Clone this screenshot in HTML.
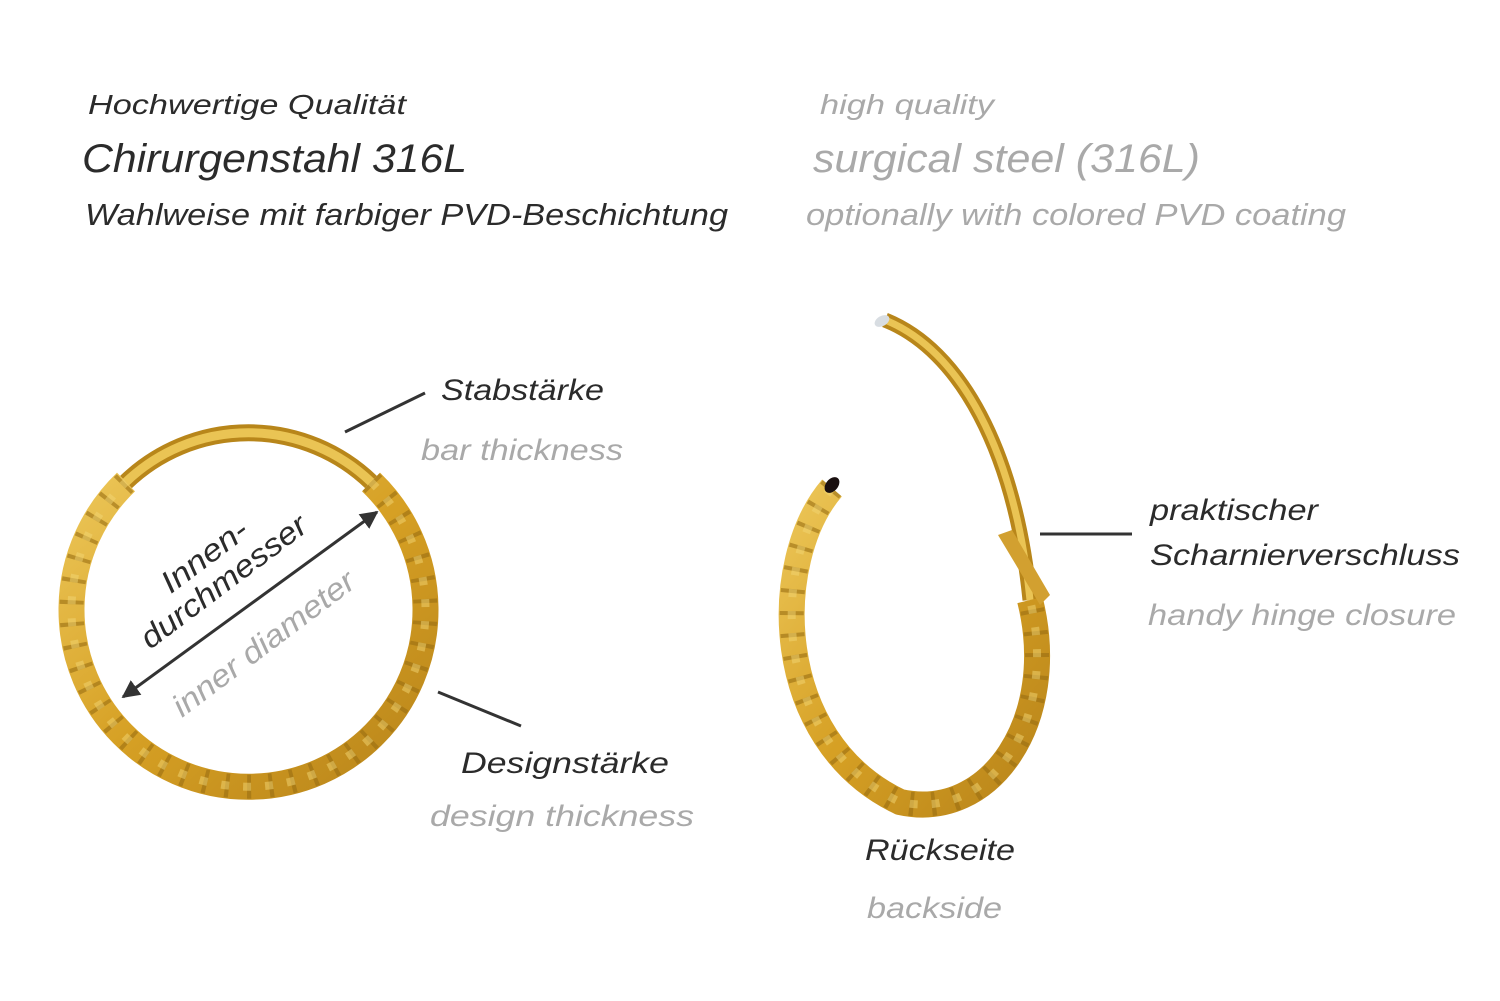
<!DOCTYPE html>
<html><head><meta charset="utf-8"><style>
html,body{margin:0;padding:0;background:#fff;}
svg{display:block;}
text{font-family:"Liberation Sans",sans-serif;font-style:italic;}
.d{fill:#2b2b2b}.g{fill:#a9a9a9}
</style></head><body>
<svg width="1500" height="1001" viewBox="0 0 1500 1001" xmlns="http://www.w3.org/2000/svg">
<defs>
<linearGradient id="gold" x1="0" y1="0" x2="1" y2="1">
<stop offset="0" stop-color="#ecc658"/><stop offset="0.5" stop-color="#d6a024"/><stop offset="1" stop-color="#b8841a"/>
</linearGradient>
<marker id="ah" viewBox="0 0 10 10" refX="9" refY="5" markerWidth="6" markerHeight="6" orient="auto-start-reverse"><path d="M0,0 L10,5 L0,10 z" fill="#333"/></marker>
</defs>

<text class="d" x="88" y="114" font-size="28" textLength="318" lengthAdjust="spacingAndGlyphs">Hochwertige Qualität</text>
<text class="d" x="82" y="172" font-size="40" textLength="385" lengthAdjust="spacingAndGlyphs">Chirurgenstahl 316L</text>
<text class="d" x="85" y="225" font-size="31" textLength="643" lengthAdjust="spacingAndGlyphs">Wahlweise mit farbiger PVD-Beschichtung</text>
<text class="g" x="820" y="114" font-size="28" textLength="174" lengthAdjust="spacingAndGlyphs">high quality</text>
<text class="g" x="813" y="172" font-size="40" textLength="387" lengthAdjust="spacingAndGlyphs">surgical steel (316L)</text>
<text class="g" x="806" y="225" font-size="31" textLength="540" lengthAdjust="spacingAndGlyphs">optionally with colored PVD coating</text>

<!-- left ring -->
<g fill="none">
<path d="M 126 482 A 177 177 0 0 1 371 482" stroke="#b8861a" stroke-width="17"/>
<path d="M 126 482 A 177 177 0 0 1 371 482" stroke="#eac454" stroke-width="9"/>
<path d="M 371 482 A 177 177 0 1 1 126 482" stroke="url(#gold)" stroke-width="26"/>
<path d="M 371 482 A 177 177 0 1 1 126 482" stroke="#9a6e12" stroke-width="24" stroke-dasharray="4 18" opacity="0.6"/>
<path d="M 371 482 A 177 177 0 1 1 126 482" stroke="#f2d574" stroke-width="8" stroke-dasharray="8 14" opacity="0.5"/>
</g>
<line x1="123" y1="697" x2="377" y2="512" stroke="#333" stroke-width="3" marker-start="url(#ah)" marker-end="url(#ah)"/>
<g transform="translate(150 650) rotate(-37)">
<text class="d" x="0" y="0" font-size="31" textLength="200" lengthAdjust="spacingAndGlyphs">durchmesser</text>
<text class="d" x="50" y="-32" font-size="31" textLength="100" lengthAdjust="spacingAndGlyphs">Innen-</text>
</g>
<g transform="rotate(-37 182 718)">
<text class="g" x="182" y="718" font-size="31" textLength="220" lengthAdjust="spacingAndGlyphs">inner diameter</text>
</g>

<line x1="345" y1="432" x2="425" y2="393" stroke="#333" stroke-width="3"/>
<line x1="438" y1="692" x2="521" y2="726" stroke="#333" stroke-width="3"/>
<text class="d" x="441" y="400" font-size="30" textLength="163" lengthAdjust="spacingAndGlyphs">Stabstärke</text>
<text class="g" x="421" y="460" font-size="30" textLength="202" lengthAdjust="spacingAndGlyphs">bar thickness</text>
<text class="d" x="461" y="773" font-size="30" textLength="208" lengthAdjust="spacingAndGlyphs">Designstärke</text>
<text class="g" x="430" y="826" font-size="30" textLength="264" lengthAdjust="spacingAndGlyphs">design thickness</text>

<!-- right ring -->
<g fill="none">
<path d="M 1030 600 C 1015 450, 960 350, 885 320" stroke="#b8861a" stroke-width="15"/>
<path d="M 1030 600 C 1015 450, 960 350, 885 320" stroke="#eac454" stroke-width="7"/>
<path d="M 832 488 C 770 560, 770 740, 900 802 C 990 822, 1060 720, 1030 600" stroke="url(#gold)" stroke-width="26"/>
<path d="M 832 488 C 770 560, 770 740, 900 802 C 990 822, 1060 720, 1030 600" stroke="#9a6e12" stroke-width="24" stroke-dasharray="4 18" opacity="0.6"/>
<path d="M 832 488 C 770 560, 770 740, 900 802 C 990 822, 1060 720, 1030 600" stroke="#f2d574" stroke-width="8" stroke-dasharray="8 14" opacity="0.5"/>
</g>
<path d="M 998 535 L 1012 530 L 1050 595 L 1040 605 Z" fill="#d2a030"/>
<ellipse cx="832" cy="485" rx="9" ry="6" fill="#1a1010" transform="rotate(-50 832 485)"/>
<ellipse cx="882" cy="321" rx="8" ry="5" fill="#d8dde2" transform="rotate(-30 882 321)"/>

<line x1="1040" y1="534" x2="1132" y2="534" stroke="#333" stroke-width="3"/>
<text class="d" x="1150" y="520" font-size="30" textLength="168" lengthAdjust="spacingAndGlyphs">praktischer</text>
<text class="d" x="1150" y="565" font-size="30" textLength="310" lengthAdjust="spacingAndGlyphs">Scharnierverschluss</text>
<text class="g" x="1148" y="625" font-size="30" textLength="308" lengthAdjust="spacingAndGlyphs">handy hinge closure</text>
<text class="d" x="865" y="860" font-size="30" textLength="150" lengthAdjust="spacingAndGlyphs">Rückseite</text>
<text class="g" x="867" y="918" font-size="30" textLength="135" lengthAdjust="spacingAndGlyphs">backside</text>
</svg>
</body></html>
